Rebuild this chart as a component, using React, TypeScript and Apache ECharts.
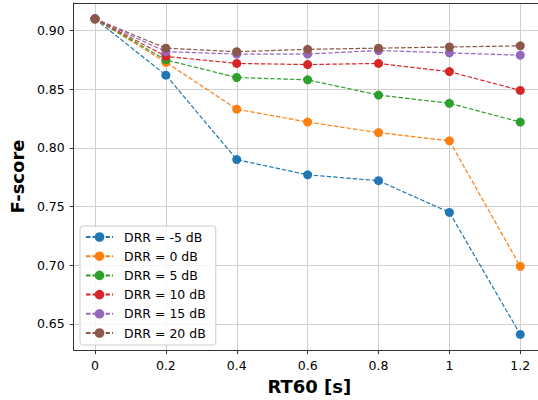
import React, { useEffect, useRef } from "react";
import * as echarts from "echarts";

const rt60 = [0, 0.2, 0.4, 0.6, 0.8, 1.0, 1.2];
const seriesNames = ["DRR = -5 dB", "DRR = 0 dB", "DRR = 5 dB", "DRR = 10 dB", "DRR = 15 dB", "DRR = 20 dB"];
const drrM5 = [0.910, 0.862, 0.790, 0.777, 0.772, 0.745, 0.641];
const drr0 = [0.910, 0.873, 0.833, 0.822, 0.813, 0.806, 0.699];
const drr5 = [0.910, 0.875, 0.860, 0.858, 0.845, 0.838, 0.822];
const drr10 = [0.910, 0.878, 0.872, 0.871, 0.872, 0.865, 0.849];
const drr15 = [0.910, 0.882, 0.880, 0.880, 0.883, 0.881, 0.879];
const drr20 = [0.910, 0.885, 0.882, 0.884, 0.885, 0.886, 0.887];
const allSeries = [drrM5, drr0, drr5, drr10, drr15, drr20];
const colors = ["#1f77b4", "#ff7f0e", "#2ca02c", "#d62728", "#9467bd", "#8c564b"];
const xTicks = [0, 0.2, 0.4, 0.6, 0.8, 1.0, 1.2];
const yTicks = [0.65, 0.7, 0.75, 0.8, 0.85, 0.9];

const FONT = "DejaVu Sans";
const SPINE = "#333333";

export default function App() {
  const ref = useRef<HTMLDivElement>(null);
  useEffect(() => {
    if (!ref.current) return;
    const chart = echarts.init(ref.current, null, { renderer: "svg" });
    chart.setOption({
      animation: false,
      backgroundColor: "#ffffff",
      grid: {
        left: 73,
        top: 3,
        right: 0,
        bottom: 48,
        show: false,
      },
      legend: {
        orient: "vertical",
        left: 80,
        top: 226,
        data: seriesNames,
        itemWidth: 27,
        itemHeight: 12,
        itemGap: 5.2,
        padding: [4, 10, 5, 5],
        backgroundColor: "rgba(255,255,255,0.8)",
        borderColor: "#cccccc",
        borderWidth: 1,
        borderRadius: 3,
        textStyle: {
          fontFamily: FONT,
          fontSize: 12.5,
          color: "#000000",
          lineHeight: 14,
          padding: [0, 0, 0, 6],
        },
      },
      xAxis: [
        {
          type: "value",
          min: -0.06,
          max: 1.25,
          name: "RT60 [s]",
          nameLocation: "middle",
          nameGap: 26,
          nameTextStyle: { fontFamily: FONT, fontSize: 18, fontWeight: "bold", color: "#000", padding: [0, 0, 0, 7] },
          axisLine: { show: true, onZero: false, lineStyle: { color: SPINE, width: 1 } },
          axisTick: { show: true, length: 4, lineStyle: { color: SPINE }, customValues: xTicks },
          axisLabel: {
            fontFamily: FONT,
            fontSize: 12.5,
            color: "#000",
            margin: 9,
            customValues: xTicks,
            formatter: (v: number) => String(Math.round(v * 10) / 10),
          },
          splitLine: { show: true, lineStyle: { color: "#cfcfcf", width: 1 } },
        },
        {
          type: "value",
          position: "top",
          min: -0.06,
          max: 1.25,
          axisLine: { show: true, onZero: false, lineStyle: { color: SPINE, width: 1 } },
          axisTick: { show: false },
          axisLabel: { show: false },
          splitLine: { show: false },
        },
      ],
      yAxis: {
        type: "value",
        min: 0.6276,
        max: 0.9235,
        name: "F-score",
        nameLocation: "middle",
        nameGap: 40,
        nameTextStyle: { fontFamily: FONT, fontSize: 18, fontWeight: "bold", color: "#000" },
        axisLine: { show: true, onZero: false, lineStyle: { color: SPINE, width: 1 } },
        axisTick: { show: true, length: 4, lineStyle: { color: SPINE }, customValues: yTicks },
        axisLabel: {
          fontFamily: FONT,
          fontSize: 12.5,
          color: "#000",
          margin: 9,
          customValues: yTicks,
          formatter: (v: number) => v.toFixed(2),
        },
        splitLine: { show: true, lineStyle: { color: "#cfcfcf", width: 1 } },
      },
      series: allSeries.map((vals, i) => ({
        name: seriesNames[i],
        type: "line",
        xAxisIndex: 0,
        data: rt60.map((x, j) => [x, vals[j]]),
        symbol: "circle",
        symbolSize: 9,
        color: colors[i],
        itemStyle: { color: colors[i] },
        lineStyle: { color: colors[i], width: 1.2, type: [4.5, 2] },
        emphasis: { disabled: true },
      })),
    });
    return () => chart.dispose();
  }, []);
  return <div ref={ref} style={{ width: 538, height: 400, position: "absolute", left: 0, top: 0 }} />;
}
